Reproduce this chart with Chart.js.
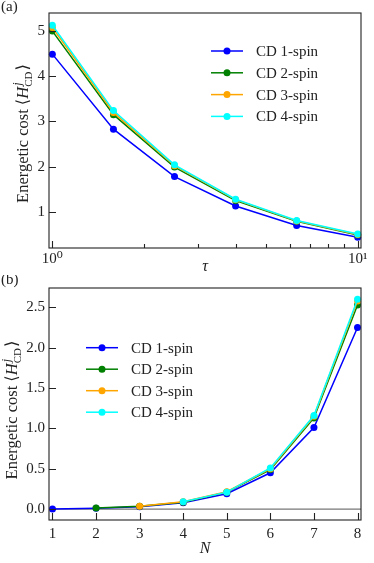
<!DOCTYPE html>
<html>
<head>
<meta charset="utf-8">
<script src="https://cdn.jsdelivr.net/npm/chart.js@4"></script>
<style>
  body { margin: 0; background: #fff; }
  .panel { position: absolute; left: 0; width: 374px; }
  #pa { top: 0; height: 275px; }
  #pb { top: 275px; height: 288px; }
</style>
</head>
<body>
<div class="panel" id="pa"><canvas id="chartA" width="374" height="275"></canvas></div>
<div class="panel" id="pb"><canvas id="chartB" width="374" height="288"></canvas></div>
<script>
// panel (a): cost vs tau
const tau = [1, 1.585, 2.512, 3.981, 6.310, 10];
const costTau1 = [4.49, 2.83, 1.78, 1.13, 0.70, 0.44];
const costTau2 = [5.00, 3.15, 1.99, 1.25, 0.79, 0.49];
const costTau3 = [5.08, 3.20, 2.02, 1.27, 0.80, 0.50];
const costTau4 = [5.13, 3.24, 2.04, 1.28, 0.81, 0.51];

// panel (b): cost vs N (higher-order terms start at larger N)
const sizes = [1, 2, 3, 4, 5, 6, 7, 8];
const costN1 = [0.0, 0.01, 0.03, 0.08, 0.19, 0.45, 1.01, 2.25];
const costN2 = [null, 0.015, 0.035, 0.085, 0.21, 0.49, 1.13, 2.53];
const costN3 = [null, null, 0.035, 0.09, 0.215, 0.50, 1.15, 2.58];
const costN4 = [null, null, null, 0.09, 0.21, 0.51, 1.16, 2.60];

const seriesNames = ['CD 1-spin', 'CD 2-spin', 'CD 3-spin', 'CD 4-spin'];
const colors = ['#0000ff', '#008000', '#ffa500', '#00ffff'];

const tauTicks = [1, 2, 3, 4, 5, 6, 7, 8, 9, 10];
const tauLabels = {1: '10\u2070', 10: '10\u00b9'};
const yTicksA = [1, 2, 3, 4, 5];
const yTicksB = [0, 0.5, 1.0, 1.5, 2.0, 2.5];

const FONT = "'Liberation Serif', 'DejaVu Serif', serif";
const INK = '#222';

function makeSets(xs, cols) {
  return cols.map((ys, i) => ({
    label: seriesNames[i],
    data: xs.map((x, j) => ({x: x, y: ys[j]})).filter(p => p.y !== null),
    borderColor: colors[i],
    backgroundColor: colors[i],
    pointBackgroundColor: colors[i],
    pointBorderColor: colors[i],
    borderWidth: 1.5,
    pointRadius: 3.5,
    pointHoverRadius: 3.5,
    pointBorderWidth: 0,
    tension: 0,
    clip: false,
    order: 3 - i
  }));
}

// frame, inward ticks, zero line, titles and legend
const decor = {
  id: 'decor',
  beforeDatasetsDraw(chart, args, o) {
    if (!o.zeroLine) return;
    const {ctx, chartArea: a} = chart;
    const y = chart.scales.y.getPixelForValue(0);
    ctx.save();
    ctx.strokeStyle = '#555';
    ctx.lineWidth = 1;
    ctx.beginPath(); ctx.moveTo(a.left, y); ctx.lineTo(a.right, y); ctx.stroke();
    ctx.restore();
  },
  afterDatasetsDraw(chart, args, o) {
    const {ctx, chartArea: a, scales} = chart;
    ctx.save();
    ctx.strokeStyle = INK;
    ctx.lineWidth = 1.1;
    ctx.strokeRect(a.left, a.top, a.right - a.left, a.bottom - a.top);
    ctx.beginPath();
    scales.x.ticks.forEach(t => {
      const px = Math.round(scales.x.getPixelForValue(t.value)) + 0.5;
      const len = t.major ? 7 : 4;
      ctx.moveTo(px, a.bottom); ctx.lineTo(px, a.bottom - len);
    });
    scales.y.ticks.forEach(t => {
      const py = Math.round(scales.y.getPixelForValue(t.value)) + 0.5;
      ctx.moveTo(a.left, py); ctx.lineTo(a.left + 7, py);
    });
    ctx.stroke();

    // panel tag
    ctx.fillStyle = INK;
    ctx.textBaseline = 'alphabetic';
    ctx.textAlign = 'left';
    ctx.font = '15px ' + FONT;
    ctx.fillText(o.tag, 1, o.tagY);

    // x title
    ctx.textAlign = 'center';
    ctx.font = 'italic 16px ' + FONT;
    ctx.fillText(o.xTitle, (a.left + a.right) / 2, o.xTitleY);

    // y title: Energetic cost <H^j_CD>
    const pieces = [
      {t: 'Energetic cost ', f: '16.5px ' + FONT, dy: 0},
      {t: '\u27e8', f: '16.5px ' + FONT, dy: 0},
      {t: 'H', f: 'italic 16.5px ' + FONT, dy: 0},
      {t: 'j', f: 'italic 12px ' + FONT, dy: -7, stackWith: 'CD'},
      {t: '\u27e9', f: '16.5px ' + FONT, dy: 0}
    ];
    const subFont = '11px ' + FONT;
    let total = 0;
    pieces.forEach(p => {
      ctx.font = p.f;
      p.w = ctx.measureText(p.t).width;
      if (p.stackWith) {
        ctx.font = subFont;
        p.w = Math.max(p.w, ctx.measureText(p.stackWith).width) + 1;
      }
      total += p.w;
    });
    ctx.translate(o.yTitleX, (a.top + a.bottom) / 2 + o.yTitleShift);
    ctx.rotate(-Math.PI / 2);
    ctx.textAlign = 'left';
    let cx = -total / 2;
    pieces.forEach(p => {
      ctx.font = p.f;
      ctx.fillText(p.t, cx + (p.stackWith ? 1 : 0), p.dy);
      if (p.stackWith) {
        ctx.font = subFont;
        ctx.fillText(p.stackWith, cx, 4);
      }
      cx += p.w;
    });
    ctx.restore();

    // legend
    ctx.save();
    ctx.font = '15px ' + FONT;
    ctx.textBaseline = 'middle';
    chart.data.datasets.forEach((ds, i) => {
      const y = o.legY + i * o.legDy;
      ctx.strokeStyle = ds.borderColor;
      ctx.lineWidth = 1.5;
      ctx.beginPath(); ctx.moveTo(o.legX, y); ctx.lineTo(o.legX + 32, y); ctx.stroke();
      ctx.fillStyle = ds.borderColor;
      ctx.beginPath(); ctx.arc(o.legX + 16, y, 3.5, 0, Math.PI * 2); ctx.fill();
      ctx.fillStyle = INK;
      ctx.fillText(ds.label, o.legX + 45, y + 1);
    });
    ctx.restore();
  }
};

const tickFont = {family: FONT, size: 15};

new Chart(document.getElementById('chartA'), {
  type: 'line',
  data: {datasets: makeSets(tau, [costTau1, costTau2, costTau3, costTau4])},
  plugins: [decor],
  options: {
    responsive: false,
    animation: false,
    events: [],
    layout: {padding: {top: 13, right: 13, left: 0, bottom: 0}},
    plugins: {
      legend: {display: false},
      tooltip: {enabled: false},
      decor: {tag: '(a)', tagY: 11, xTitle: '\u03c4', xTitleY: 271,
              yTitleX: 28, yTitleShift: 3, legX: 211, legY: 51, legDy: 21.8}
    },
    scales: {
      x: {
        type: 'logarithmic', min: 0.975, max: 10.25,
        grid: {display: false, drawTicks: false},
        border: {display: false},
        afterBuildTicks: s => { s.ticks = tauTicks.map(v => ({value: v, major: v in tauLabels})); },
        afterFit: s => { s.height = 27; },
        ticks: {font: tickFont, color: INK, padding: 2, autoSkip: false, maxRotation: 0,
                callback: v => tauLabels[v] || ''}
      },
      y: {
        min: 0.2, max: 5.4,
        grid: {display: false, drawTicks: false},
        border: {display: false},
        afterBuildTicks: s => { s.ticks = yTicksA.map(v => ({value: v})); },
        afterFit: s => { s.width = 49; },
        ticks: {font: tickFont, color: INK, padding: 4}
      }
    }
  }
});

new Chart(document.getElementById('chartB'), {
  type: 'line',
  data: {datasets: makeSets(sizes, [costN1, costN2, costN3, costN4])},
  plugins: [decor],
  options: {
    responsive: false,
    animation: false,
    events: [],
    layout: {padding: {top: 12, right: 13, left: 0, bottom: 0}},
    plugins: {
      legend: {display: false},
      tooltip: {enabled: false},
      decor: {tag: '(b)', tagY: 9, xTitle: 'N', xTitleY: 278, zeroLine: true,
              yTitleX: 17, yTitleShift: 6, legX: 86, legY: 72.7, legDy: 21.5}
    },
    scales: {
      x: {
        type: 'linear', min: 0.92, max: 8.08,
        grid: {display: false, drawTicks: false},
        border: {display: false},
        afterBuildTicks: s => { s.ticks = sizes.map(v => ({value: v, major: true})); },
        afterFit: s => { s.height = 43; },
        ticks: {font: tickFont, color: INK, padding: 5, autoSkip: false, maxRotation: 0}
      },
      y: {
        min: -0.135, max: 2.74,
        grid: {display: false, drawTicks: false},
        border: {display: false},
        afterBuildTicks: s => { s.ticks = yTicksB.map(v => ({value: v})); },
        afterFit: s => { s.width = 49; },
        ticks: {font: tickFont, color: INK, padding: 4, callback: v => v.toFixed(1)}
      }
    }
  }
});
</script>
</body>
</html>
